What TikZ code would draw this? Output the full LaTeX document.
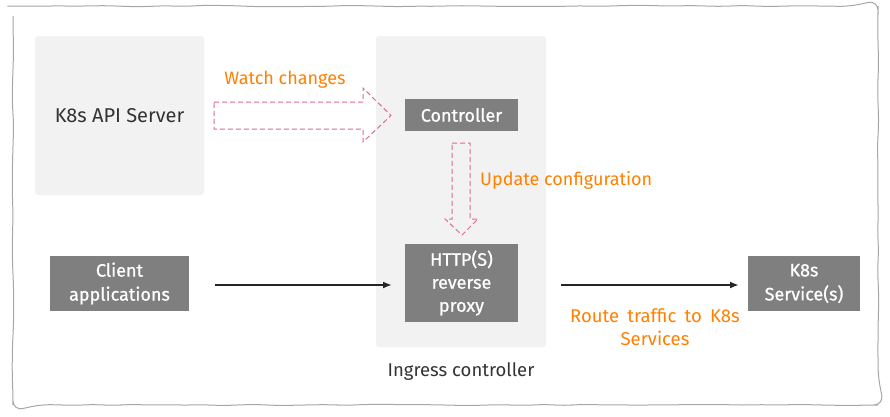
\documentclass[tikz,border=0pt]{standalone}
\usepackage{fontspec}
\setmainfont{Fira Sans}
\newfontfamily\boxfont[FakeBold=0.8]{Fira Sans}
\usetikzlibrary{decorations.pathmorphing,arrows.meta}
\definecolor{panel}{HTML}{F2F2F2}
\definecolor{dark}{HTML}{7F7F7F}
\definecolor{orng}{HTML}{FF8000}
\definecolor{pinkd}{HTML}{D6457F}
\definecolor{txt}{HTML}{333333}
\newcommand\widesp{\spaceskip=0.45em\relax}
\begin{document}
\begin{tikzpicture}[x=1pt,y=-1pt,
  panelbox/.style={fill=panel,draw=none,rounded corners=3pt},
  darkbox/.style={fill=dark,draw=none,text=white,font=\boxfont\fontsize{18}{23}\selectfont,align=center,inner sep=0pt},
  lbl/.style={text=orng,font=\fontsize{18}{23}\selectfont,align=center},
  flow/.style={draw=black!85,line width=1.8pt,-{Latex[length=9pt,width=7pt]}},
  hollow/.style={draw=pinkd!80,line width=1pt,dash pattern=on 5pt off 3pt,fill=none}
]
\useasboundingbox (0,0) rectangle (890,416);
% outer wobbly frame
\draw[gray!70,line width=1pt,rounded corners=10pt,decorate,decoration={random steps,segment length=18pt,amplitude=0.8pt}]
  (13,6) rectangle (878,405);
% panels
\node[panelbox,minimum width=169pt,minimum height=159pt,text=txt,font=\fontsize{20}{23}\selectfont] (api) at (119.5,115.5) {K8s API Server};
\node[panelbox,minimum width=170pt,minimum height=311pt] (ing) at (461,191.5) {};
\node[text=txt,font=\fontsize{18.5}{23}\selectfont] (inglbl) at (461,372) {Ingress controller};
% dark boxes
\node[darkbox,minimum width=113pt,minimum height=32pt] (ctrl) at (461.5,115) {Controller};
\node[darkbox,minimum width=113pt,minimum height=78pt] (proxy) at (461.5,283) {HTTP(S)\\reverse\\proxy};
\node[darkbox,minimum width=139pt,minimum height=55pt,font=\boxfont\fontsize{18}{24}\selectfont] (client) at (119.5,283.5) {Client\\applications};
\node[darkbox,minimum width=112pt,minimum height=55pt,font=\boxfont\fontsize{18}{24}\selectfont] (svc) at (804,283.5) {K8s\\Service(s)};
% flows
\coordinate (c1) at (215,285);
\coordinate (c2) at (392,285);
\coordinate (c3) at (561,285);
\coordinate (c4) at (739,285);
\draw[flow] (c1) -- (c2);
\draw[flow] (c3) -- (c4);
% hollow arrow: watch changes
\draw[hollow] (214,102) -- (363,102) -- (363,88) -- (391,115.5) -- (363,142) -- (363,129) -- (214,129) -- cycle;
\node[lbl] (watch) at (285,80) {Watch changes};
% hollow arrow: update configuration
\draw[hollow] (452,143) -- (470,143) -- (470,219) -- (478,219) -- (462,235) -- (445,219) -- (452,219) -- cycle;
\node[lbl,anchor=west,inner sep=0pt] (update) at (480,180) {Update configuration};
\node[lbl,font=\fontsize{18.5}{23}\selectfont\widesp] (route) at (655,327) {Route traffic to K8s\\Services};
\end{tikzpicture}
\end{document}
